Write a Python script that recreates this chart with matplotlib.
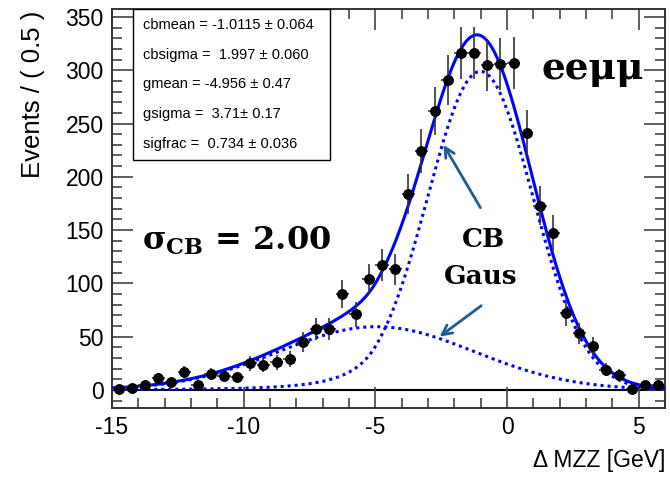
import numpy as np
import matplotlib.pyplot as plt
import matplotlib.patches as mpatches
from matplotlib.ticker import MultipleLocator

plt.rcParams['font.family'] = ['Liberation Sans', 'DejaVu Sans']
plt.rcParams['axes.unicode_minus'] = False
plt.rcParams['mathtext.fontset'] = 'custom'
plt.rcParams['mathtext.bf'] = 'DejaVu Serif:bold'

# binned data, 0.5 GeV bins from -15 to 6
x_lo, x_hi, bin_width = -15.0, 6.0, 0.5
counts = [1, 2, 5, 11, 7, 17, 5, 15, 13, 12,
          25, 23, 26, 29, 45, 57, 57, 90, 71, 104,
          117, 113, 184, 224, 262, 291, 316, 316, 305, 306,
          307, 241, 173, 147, 72, 53, 41, 19, 14, 1,
          5, 5]
# weighted MC events, error per bin = sqrt(sum w^2)
event_weight = 1.9

# fit results
cbmean, cbmean_err = -1.0115, 0.064
cbsigma, cbsigma_err = 1.997, 0.060
gmean, gmean_err = -4.956, 0.47
gsigma, gsigma_err = 3.71, 0.17
sigfrac, sigfrac_err = 0.734, 0.036
# crystal ball tail (not in the parameter box)
cb_alpha, cb_n = 2.0, 4.0

param_lines = [
    "cbmean = %.4f ± %.3f" % (cbmean, cbmean_err),
    "cbsigma =  %.3f ± %.3f" % (cbsigma, cbsigma_err),
    "gmean = %.3f ± %.2f" % (gmean, gmean_err),
    "gsigma =  %.2f± %.2f" % (gsigma, gsigma_err),
    "sigfrac =  %.3f ± %.3f" % (sigfrac, sigfrac_err),
]


def crystal_ball(x, mean, sigma, alpha, n):
    t = (x - mean) / sigma
    a = (n / alpha) ** n * np.exp(-0.5 * alpha ** 2)
    b = n / alpha - alpha
    out = np.exp(-0.5 * t ** 2)
    tail = t < -alpha
    out[tail] = a * (b - t[tail]) ** (-n)
    return out


def gauss(x, mean, sigma):
    return np.exp(-0.5 * ((x - mean) / sigma) ** 2)


def normalise(f, grid):
    return f / np.trapezoid(f, grid)


counts = np.array(counts, dtype=float)
errors = np.sqrt(event_weight * counts)
centers = x_lo + bin_width * (np.arange(len(counts)) + 0.5)
n_events = counts.sum()

xs = np.linspace(x_lo, x_hi, 1200)
cb_pdf = normalise(crystal_ball(xs, cbmean, cbsigma, cb_alpha, cb_n), xs)
g_pdf = normalise(gauss(xs, gmean, gsigma), xs)
scale = n_events * bin_width
cb_curve = scale * sigfrac * cb_pdf
g_curve = scale * (1 - sigfrac) * g_pdf
total_curve = cb_curve + g_curve

fig = plt.figure(figsize=(6.7, 4.79), dpi=100)
ax = fig.add_axes([112 / 670, 71 / 479, 553 / 670, 399 / 479])

ax.axhline(0, color='black', lw=1.5, zorder=1)
ax.plot(xs, g_curve, color='blue', lw=2.2, ls=(0, (1, 1.3)), zorder=2)
ax.plot(xs, cb_curve, color='blue', lw=2.2, ls=(0, (1, 1.3)), zorder=2)
ax.plot(xs, total_curve, color='blue', lw=2.2, zorder=3)

ax.errorbar(centers, counts, yerr=errors, xerr=bin_width / 2,
            fmt='o', color='black', ms=6.8, elinewidth=1.2, capsize=0,
            ecolor='#333333', zorder=4)

ax.set_xlim(x_lo, x_hi)
ax.set_ylim(-17, 357.5)
ax.xaxis.set_major_locator(MultipleLocator(5))
ax.xaxis.set_minor_locator(MultipleLocator(1))
ax.yaxis.set_major_locator(MultipleLocator(50))
ax.yaxis.set_minor_locator(MultipleLocator(10))
ax.tick_params(which='both', direction='in', top=True, right=True,
               labelsize=16.5, color='#444444', width=1.2)
ax.tick_params(which='major', length=15, pad=6)
ax.tick_params(which='minor', length=7)
for sp in ax.spines.values():
    sp.set_linewidth(1.4)
    sp.set_color('#333333')

fig.text(665 / 670, 19 / 479, "Δ MZZ [GeV]", ha='right', va='center', fontsize=16.5)
fig.text(33 / 670, 468 / 479, "Events / ( 0.5 )", rotation=90, ha='center',
         va='top', fontsize=18.5)

# parameter box
box = mpatches.Rectangle((0.038, 0.6216), 0.356, 0.3784, transform=ax.transAxes,
                         fill=True, facecolor='white', edgecolor='black', lw=1.0,
                         zorder=5)
ax.add_patch(box)
for i, line in enumerate(param_lines):
    ax.text(0.056, 0.960 - i * 0.0745, line, transform=ax.transAxes,
            ha='left', va='center', fontsize=10.5, zorder=6)

serif = dict(family='DejaVu Serif', weight='bold', color='black')
ax.text(3.25, 302, "eeμμ", ha='center', va='center', fontsize=27, **serif)
ax.text(-13.85, 140, "σ$_{\\mathbf{CB}}$ = 2.00", ha='left', va='center',
        fontsize=23, **serif)
ax.text(-0.9, 141, "CB", ha='center', va='center', fontsize=19, **serif)
ax.text(-1.0, 106, "Gaus", ha='center', va='center', fontsize=19, **serif)

arrow_style = dict(arrowstyle='->,head_length=0.7,head_width=0.35',
                   color='#1f5d8c', lw=2.0, shrinkA=0, shrinkB=0)
ax.annotate("", xy=(-2.41, 230), xytext=(-1.01, 171), arrowprops=arrow_style)
ax.annotate("", xy=(-2.56, 50), xytext=(-0.98, 79), arrowprops=arrow_style)

fig.savefig("out.png", dpi=100)
